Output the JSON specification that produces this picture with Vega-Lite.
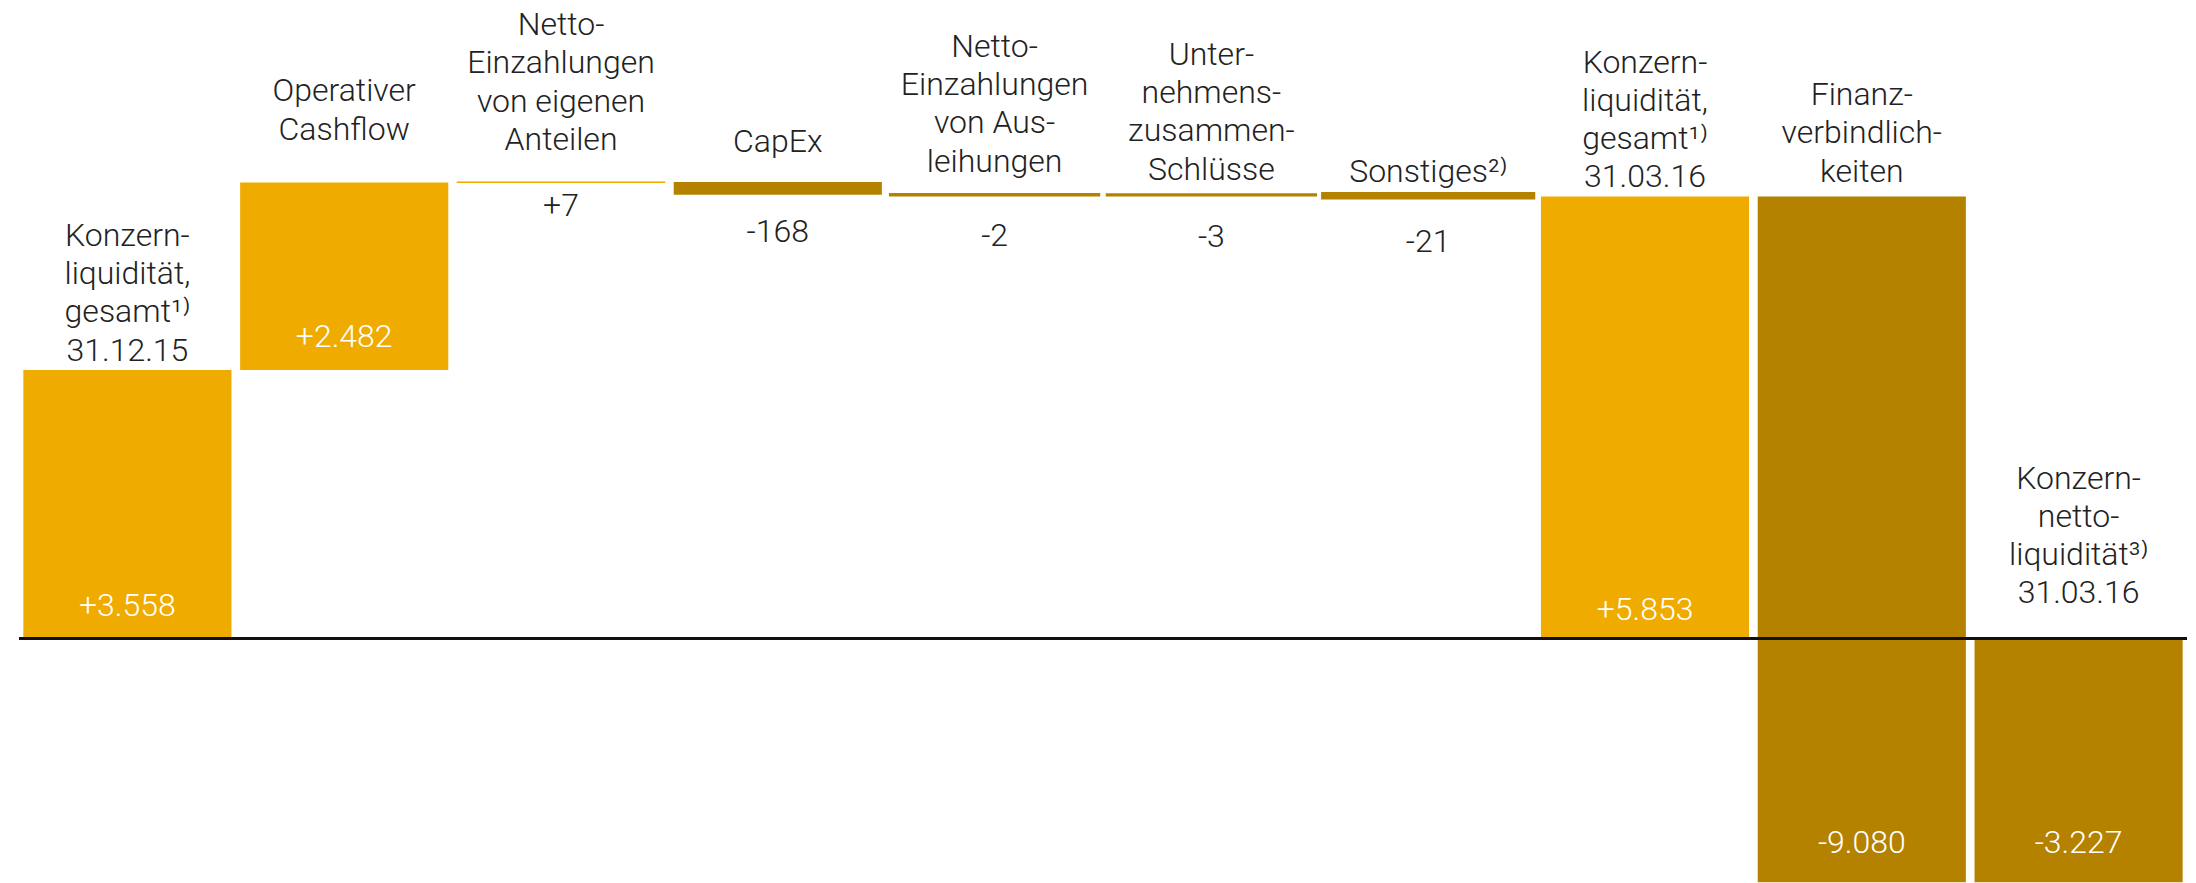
{
  "$schema": "https://vega.github.io/schema/vega-lite/v6.json",
  "width": 2168,
  "height": 883,
  "autosize": {"type": "none"},
  "padding": {"left": 19, "right": 9, "top": 0, "bottom": 0},
  "background": "white",
  "config": {
    "view": {"stroke": null},
    "text": {"font": "Roboto", "fontSize": 32, "fontWeight": 300, "color": "#222222"}
  },
  "data": {
    "values": [
      {"key": "k1", "label": ["Konzern-", "liquidität,", "gesamt¹⁾", "31.12.15"], "start": 0, "end": 3558, "value": "+3.558", "kind": "pos"},
      {"key": "k2", "label": ["Operativer", "Cashflow"], "start": 3558, "end": 6040, "value": "+2.482", "kind": "pos"},
      {"key": "k3", "label": ["Netto-", "Einzahlungen", "von eigenen", "Anteilen"], "start": 6040, "end": 6047, "value": "+7", "kind": "pos"},
      {"key": "k4", "label": ["CapEx"], "start": 6047, "end": 5879, "value": "-168", "kind": "neg"},
      {"key": "k5", "label": ["Netto-", "Einzahlungen", "von Aus-", "leihungen"], "start": 5879, "end": 5877, "value": "-2", "kind": "neg"},
      {"key": "k6", "label": ["Unter-", "nehmens-", "zusammen-", "Schlüsse"], "start": 5877, "end": 5874, "value": "-3", "kind": "neg"},
      {"key": "k7", "label": ["Sonstiges²⁾"], "start": 5874, "end": 5853, "value": "-21", "kind": "neg"},
      {"key": "k8", "label": ["Konzern-", "liquidität,", "gesamt¹⁾", "31.03.16"], "start": 0, "end": 5853, "value": "+5.853", "kind": "pos"},
      {"key": "k9", "label": ["Finanz-", "verbindlich-", "keiten"], "start": 5853, "end": -3227, "value": "-9.080", "kind": "neg"},
      {"key": "k10", "label": ["Konzern-", "netto-", "liquidität³⁾", "31.03.16"], "start": 0, "end": -3227, "value": "-3.227", "kind": "neg"}
    ]
  },
  "layer": [
    {
      "encoding": {
        "x": {
          "field": "key", "type": "nominal", "sort": null, "axis": null,
          "scale": {"domain": ["k1","k2","k3","k4","k5","k6","k7","k8","k9","k10"], "paddingInner": 0.04, "paddingOuter": 0.02}
        }
      },
      "layer": [
        {
          "mark": {"type": "bar", "clip": true},
          "encoding": {
            "y": {"field": "start", "type": "quantitative", "axis": null, "scale": {"domain": [-3238, 8457], "nice": false, "zero": false}},
            "y2": {"field": "end"},
            "color": {"field": "kind", "type": "nominal", "legend": null, "scale": {"domain": ["pos", "neg"], "range": ["#F0AB00", "#B58200"]}},
            "stroke": {"field": "kind", "type": "nominal", "legend": null, "scale": {"domain": ["pos", "neg"], "range": ["#F0AB00", "#B58200"]}},
            "strokeWidth": {
              "condition": [
                {"test": "datum.key === 'k7'", "value": 6},
                {"test": "datum.key === 'k3'", "value": 1},
                {"test": "abs(datum.end - datum.start) < 10", "value": 3.2}
              ],
              "value": 0
            }
          }
        },
        {
          "transform": [{"filter": {"field": "key", "oneOf": ["k1", "k8"]}}],
          "mark": {"type": "text", "baseline": "alphabetic", "lineHeight": 38.3, "dy": -124},
          "encoding": {"y": {"field": "end", "type": "quantitative"}, "text": {"field": "label"}}
        },
        {
          "transform": [{"filter": {"field": "key", "oneOf": ["k2"]}}],
          "mark": {"type": "text", "baseline": "alphabetic", "lineHeight": 38.3, "dy": -81},
          "encoding": {"y": {"field": "end", "type": "quantitative"}, "text": {"field": "label"}}
        },
        {
          "transform": [{"filter": {"field": "key", "oneOf": ["k3"]}}],
          "mark": {"type": "text", "baseline": "alphabetic", "lineHeight": 38.3, "dy": -147},
          "encoding": {"y": {"field": "end", "type": "quantitative"}, "text": {"field": "label"}}
        },
        {
          "transform": [{"filter": {"field": "key", "oneOf": ["k4"]}}],
          "mark": {"type": "text", "baseline": "alphabetic", "lineHeight": 38.3, "dy": -30},
          "encoding": {"y": {"field": "start", "type": "quantitative"}, "text": {"field": "label"}}
        },
        {
          "transform": [{"filter": {"field": "key", "oneOf": ["k5"]}}],
          "mark": {"type": "text", "baseline": "alphabetic", "lineHeight": 38.3, "dy": -138},
          "encoding": {"y": {"field": "start", "type": "quantitative"}, "text": {"field": "label"}}
        },
        {
          "transform": [{"filter": {"field": "key", "oneOf": ["k6"]}}],
          "mark": {"type": "text", "baseline": "alphabetic", "lineHeight": 38.3, "dy": -130},
          "encoding": {"y": {"field": "start", "type": "quantitative"}, "text": {"field": "label"}}
        },
        {
          "transform": [{"filter": {"field": "key", "oneOf": ["k7"]}}],
          "mark": {"type": "text", "baseline": "alphabetic", "lineHeight": 38.3, "dy": -13},
          "encoding": {"y": {"field": "start", "type": "quantitative"}, "text": {"field": "label"}}
        },
        {
          "transform": [{"filter": {"field": "key", "oneOf": ["k9"]}}],
          "mark": {"type": "text", "baseline": "alphabetic", "lineHeight": 38.3, "dy": -91.5},
          "encoding": {"y": {"field": "start", "type": "quantitative"}, "text": {"field": "label"}}
        },
        {
          "transform": [{"filter": {"field": "key", "oneOf": ["k10"]}}],
          "mark": {"type": "text", "baseline": "alphabetic", "lineHeight": 38.3, "dy": -150},
          "encoding": {"y": {"field": "start", "type": "quantitative"}, "text": {"field": "label"}}
        },
        {
          "transform": [{"filter": {"field": "key", "oneOf": ["k1", "k2"]}}],
          "mark": {"type": "text", "baseline": "alphabetic", "dy": -23, "color": "white"},
          "encoding": {"y": {"field": "start", "type": "quantitative"}, "text": {"field": "value"}}
        },
        {
          "transform": [{"filter": {"field": "key", "oneOf": ["k8"]}}],
          "mark": {"type": "text", "baseline": "alphabetic", "dy": -19, "color": "white"},
          "encoding": {"y": {"field": "start", "type": "quantitative"}, "text": {"field": "value"}}
        },
        {
          "transform": [{"filter": {"field": "key", "oneOf": ["k9", "k10"]}}],
          "mark": {"type": "text", "baseline": "alphabetic", "dy": -29, "color": "white"},
          "encoding": {"y": {"field": "end", "type": "quantitative"}, "text": {"field": "value"}}
        },
        {
          "transform": [{"filter": {"field": "key", "oneOf": ["k3"]}}],
          "mark": {"type": "text", "baseline": "alphabetic", "dy": 33.5},
          "encoding": {"y": {"field": "start", "type": "quantitative"}, "text": {"field": "value"}}
        },
        {
          "transform": [{"filter": {"field": "key", "oneOf": ["k4"]}}],
          "mark": {"type": "text", "baseline": "alphabetic", "dy": 47},
          "encoding": {"y": {"field": "end", "type": "quantitative"}, "text": {"field": "value"}}
        },
        {
          "transform": [{"filter": {"field": "key", "oneOf": ["k5", "k6"]}}],
          "mark": {"type": "text", "baseline": "alphabetic", "dy": 51.5},
          "encoding": {"y": {"field": "end", "type": "quantitative"}, "text": {"field": "value"}}
        },
        {
          "transform": [{"filter": {"field": "key", "oneOf": ["k7"]}}],
          "mark": {"type": "text", "baseline": "alphabetic", "dy": 55},
          "encoding": {"y": {"field": "end", "type": "quantitative"}, "text": {"field": "value"}}
        }
      ]
    },
    {
      "mark": {"type": "rule", "color": "#111111", "strokeWidth": 2},
      "encoding": {"y": {"datum": 0, "type": "quantitative"}}
    }
  ]
}
